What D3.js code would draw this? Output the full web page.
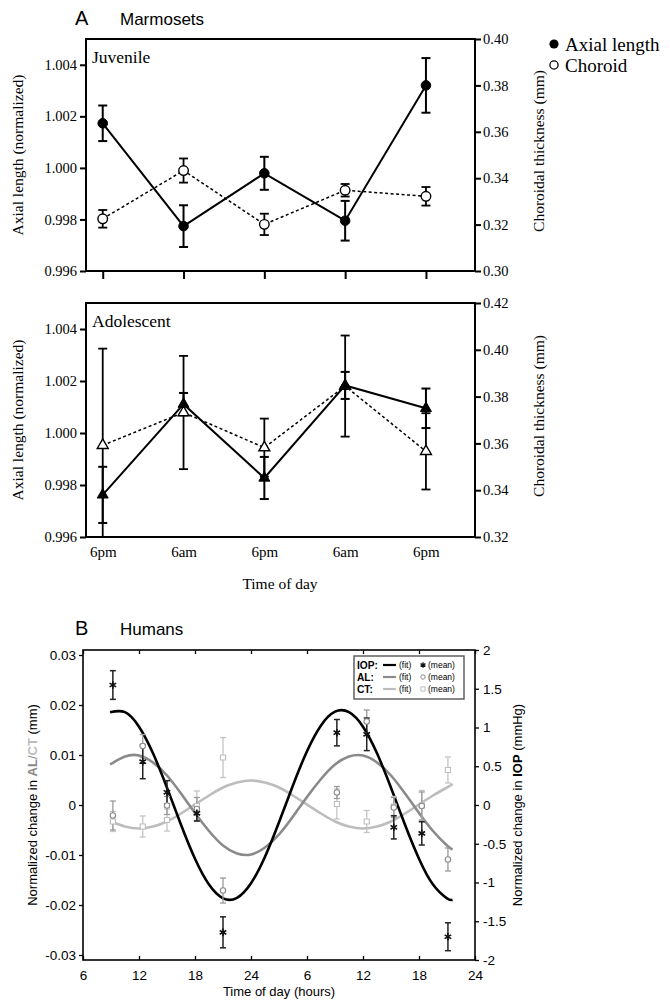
<!DOCTYPE html>
<html><head><meta charset="utf-8">
<script src="https://cdn.jsdelivr.net/npm/d3@7"></script>
<style>body{margin:0;background:#fff}</style>
</head><body>
<svg id="c" width="670" height="1008"></svg>
<script>
// ---------------- Panel A data (Marmosets) ----------------
const timeLabels = ["6pm", "6am", "6pm", "6am", "6pm"];
const timeIndex = [0, 1, 2, 3, 4];
const juvAxial = [1.00173, 0.99774, 0.99979, 0.99795, 1.00320];
const juvAxialErr = [0.00069, 0.00081, 0.00064, 0.00077, 0.00106];
const juvChoroid = [0.3225, 0.3433, 0.3201, 0.3348, 0.3322];
const juvChoroidErr = [0.0038, 0.0052, 0.0046, 0.0027, 0.0040];
const adoAxial = [0.99762, 1.00111, 0.99827, 1.00183, 1.00095];
const adoAxialErr = [0.00108, 0.00043, 0.00081, 0.00052, 0.00076];
const adoChoroid = [0.3592, 0.3732, 0.3582, 0.3845, 0.3566];
const adoChoroidErr = [0.0413, 0.0242, 0.0124, 0.0216, 0.0163];
const axialTicks = [0.996, 0.998, 1.000, 1.002, 1.004];
const juvChoroidTicks = [0.30, 0.32, 0.34, 0.36, 0.38, 0.40];
const adoChoroidTicks = [0.32, 0.34, 0.36, 0.38, 0.40, 0.42];

// ---------------- Panel B data (Humans) ----------------
const hourTicks = [6, 12, 18, 24, 30, 36, 42, 48];
const hourTickLabels = ["6", "12", "18", "24", "6", "12", "18", "24"];
const mmTicks = [-0.03, -0.02, -0.01, 0, 0.01, 0.02, 0.03];
const mmHgTicks = [-2, -1.5, -1, -0.5, 0, 0.5, 1, 1.5, 2];
const measHours = [9.2, 12.4, 15.0, 18.2, 21.0, 33.2, 36.4, 39.3, 42.3, 45.1];
const iopMean = [1.548, 0.559, 0.164, -0.107, -1.643, 0.933, 0.912, -0.288, -0.366, -1.70];
const iopErr = [0.185, 0.22, 0.15, 0.10, 0.20, 0.17, 0.21, 0.15, 0.15, 0.18];
const alMean = [-0.0021, 0.0118, -0.0001, -0.0008, -0.0171, 0.0025, 0.0167, -0.0005, -0.0002, -0.0109];
const alErr = [0.0029, 0.0023, 0.0018, 0.0023, 0.0025, 0.0012, 0.0023, 0.0020, 0.0028, 0.0023];
const ctMean = [-0.0033, -0.0043, -0.0030, -0.0002, 0.0095, 0.0002, -0.0033, -0.0003, -0.0001, 0.0070];
const ctErr = [0.0020, 0.0021, 0.0022, 0.0030, 0.0040, 0.0030, 0.0022, 0.0020, 0.0030, 0.0026];
const fitHours = [8.9, 10.5, 12, 13.5, 15, 16.5, 18, 19.5, 21, 22.5, 24, 25.5, 27, 28.5, 30, 31.5, 33, 34.5, 36, 37.5, 39, 40.5, 42, 43.5, 45, 45.6];
const iopFit = [1.198, 1.198, 1.010, 0.667, 0.223, -0.255, -0.694, -1.027, -1.204, -1.198, -1.010, -0.667, -0.223, 0.255, 0.694, 1.027, 1.204, 1.198, 1.010, 0.667, 0.223, -0.255, -0.694, -1.027, -1.204, -1.225];
const alFit = [0.0081, 0.0097, 0.0099, 0.0085, 0.0059, 0.0023, -0.0016, -0.0052, -0.0081, -0.0097, -0.0099, -0.0085, -0.0059, -0.0023, 0.0016, 0.0052, 0.0081, 0.0097, 0.0099, 0.0085, 0.0059, 0.0023, -0.0016, -0.0052, -0.0081, -0.0089];
const ctFit = [-0.0032, -0.0043, -0.0047, -0.0043, -0.0033, -0.0017, 0.0001, 0.0019, 0.0035, 0.0045, 0.0049, 0.0045, 0.0035, 0.0019, 0.0001, -0.0017, -0.0033, -0.0043, -0.0047, -0.0043, -0.0033, -0.0017, 0.0001, 0.0019, 0.0035, 0.0042];

const serif = "'Liberation Serif','Times New Roman',serif";
const sans = "'Liberation Sans',Arial,sans-serif";
const svg = d3.select("#c");

function styleAxis(ax, font, size, sw) {
  ax.attr("font-family", font).attr("font-size", size);
  ax.select(".domain").remove();
  ax.selectAll(".tick line").attr("stroke", "#000").attr("stroke-width", sw);
  ax.selectAll(".tick text").attr("fill", "#000");
}

// ================= Panel A =================
svg.append("text").attr("x", 75).attr("y", 25).attr("font-family", sans).attr("font-size", 20).text("A");
svg.append("text").attr("x", 120).attr("y", 25).attr("font-family", sans).attr("font-size", 17).text("Marmosets");

function panelA(cfg) {
  const L = 86, R = 475;
  const {top, bottom, rDom, rTicks, label, axial, axialErr, chor, chorErr, shape, showX} = cfg;
  const x = d3.scaleLinear().domain([-0.207, 4.607]).range([L, R]);
  const yL = d3.scaleLinear().domain([0.996, 1.005]).range([bottom, top]);
  const yR = d3.scaleLinear().domain(rDom).range([bottom, top]);
  const clipId = "clipA" + top;
  svg.append("clipPath").attr("id", clipId).append("rect")
    .attr("x", L).attr("y", top).attr("width", R - L).attr("height", bottom - top);
  const g = svg.append("g");

  const axL = g.append("g").attr("transform", `translate(${L},0)`)
    .call(d3.axisLeft(yL).tickValues(axialTicks).tickFormat(d3.format(".3f")).tickSize(6).tickPadding(3));
  styleAxis(axL, serif, 14.5, 2);
  const axR = g.append("g").attr("transform", `translate(${R},0)`)
    .call(d3.axisRight(yR).tickValues(rTicks).tickFormat(d3.format(".2f")).tickSize(6).tickPadding(2));
  styleAxis(axR, serif, 14.5, 2);
  const axB = g.append("g").attr("transform", `translate(0,${bottom})`)
    .call(d3.axisBottom(x).tickValues(timeIndex).tickFormat(i => showX ? timeLabels[i] : "")
      .tickSize(showX ? 0 : 8).tickPadding(9));
  styleAxis(axB, serif, 15, 2);

  g.append("rect").attr("x", L).attr("y", top).attr("width", R - L).attr("height", bottom - top)
    .attr("fill", "none").attr("stroke", "#000").attr("stroke-width", 2);

  g.append("text").attr("x", L + 6).attr("y", top + 24).attr("font-family", serif).attr("font-size", 17.5).text(label);

  const pg = g.append("g").attr("clip-path", `url(#${clipId})`);
  pg.append("path").datum(chor).attr("fill", "none").attr("stroke", "#000").attr("stroke-width", 1.5)
    .attr("stroke-dasharray", "3,2.5")
    .attr("d", d3.line().x((d, i) => x(timeIndex[i])).y(d => yR(d)));
  pg.append("path").datum(axial).attr("fill", "none").attr("stroke", "#000").attr("stroke-width", 2)
    .attr("d", d3.line().x((d, i) => x(timeIndex[i])).y(d => yL(d)));
  function errBars(vals, errs, y, sw) {
    vals.forEach((v, i) => {
      const cx = x(timeIndex[i]);
      const y1 = y(v + errs[i]), y2 = y(v - errs[i]);
      pg.append("line").attr("x1", cx).attr("x2", cx).attr("y1", y1).attr("y2", y2).attr("stroke", "#000").attr("stroke-width", sw);
      [y1, y2].forEach(yy => pg.append("line").attr("x1", cx - 4.5).attr("x2", cx + 4.5).attr("y1", yy).attr("y2", yy)
        .attr("stroke", "#000").attr("stroke-width", sw));
    });
  }
  errBars(chor, chorErr, yR, 1.8);
  errBars(axial, axialErr, yL, 2);
  const sym = shape === "circle" ? d3.symbolCircle : d3.symbolTriangle;
  const size = shape === "circle" ? 72 : 52;
  chor.forEach((v, i) => pg.append("path").attr("d", d3.symbol(sym, size)())
    .attr("transform", `translate(${x(timeIndex[i])},${yR(v)})`).attr("fill", "#fff").attr("stroke", "#000").attr("stroke-width", 1.4));
  axial.forEach((v, i) => pg.append("path").attr("d", d3.symbol(sym, size)())
    .attr("transform", `translate(${x(timeIndex[i])},${yL(v)})`).attr("fill", "#000").attr("stroke", "#000").attr("stroke-width", 1));

  const mid = (top + bottom) / 2;
  g.append("text").attr("transform", `translate(17,${mid}) rotate(-90)`).attr("text-anchor", "middle")
    .attr("dominant-baseline", "central").attr("font-family", serif).attr("font-size", 15.5).text("Axial length (normalized)");
  g.append("text").attr("transform", `translate(538,${mid - 4}) rotate(-90)`).attr("text-anchor", "middle")
    .attr("dominant-baseline", "central").attr("font-family", serif).attr("font-size", 15.5).text("Choroidal thickness (mm)");
  return x;
}

panelA({top: 39, bottom: 271, rDom: [0.30, 0.40], rTicks: juvChoroidTicks, label: "Juvenile",
  axial: juvAxial, axialErr: juvAxialErr, chor: juvChoroid, chorErr: juvChoroidErr, shape: "circle", showX: false});
panelA({top: 303, bottom: 537, rDom: [0.32, 0.42], rTicks: adoChoroidTicks, label: "Adolescent",
  axial: adoAxial, axialErr: adoAxialErr, chor: adoChoroid, chorErr: adoChoroidErr, shape: "triangle", showX: true});

svg.append("text").attr("x", 280).attr("y", 589).attr("text-anchor", "middle").attr("font-family", serif)
  .attr("font-size", 15.5).text("Time of day");

// legend A
const legA = svg.append("g").attr("font-family", serif).attr("font-size", 19);
legA.append("circle").attr("cx", 554).attr("cy", 44).attr("r", 4.6).attr("fill", "#000");
legA.append("text").attr("x", 565).attr("y", 50.5).text("Axial length");
legA.append("circle").attr("cx", 554).attr("cy", 65).attr("r", 4.1).attr("fill", "#fff").attr("stroke", "#000").attr("stroke-width", 1.3);
legA.append("text").attr("x", 565).attr("y", 71.5).text("Choroid");

// ================= Panel B =================
svg.append("text").attr("x", 75).attr("y", 635).attr("font-family", sans).attr("font-size", 20).text("B");
svg.append("text").attr("x", 120).attr("y", 635).attr("font-family", sans).attr("font-size", 17).text("Humans");

const BL = 83, BR = 475, BT = 650, BB = 960;
const xB = d3.scaleLinear().domain([6, 48]).range([BL, BR]);
const yB = d3.scaleLinear().domain([-0.031, 0.031]).range([BB, BT]);
const yI = d3.scaleLinear().domain([-2, 2]).range([BB, BT]);
const gB = svg.append("g");

const bAxL = gB.append("g").attr("transform", `translate(${BL},0)`)
  .call(d3.axisLeft(yB).tickValues(mmTicks).tickFormat(d => d === 0 ? "0" : d.toFixed(2)).tickSize(4).tickPadding(3));
styleAxis(bAxL, sans, 13.5, 1.3);
const bAxR = gB.append("g").attr("transform", `translate(${BR},0)`)
  .call(d3.axisRight(yI).tickValues(mmHgTicks).tickFormat(d => String(d)).tickSize(4).tickPadding(4));
styleAxis(bAxR, sans, 13.5, 1.3);
const bAxB = gB.append("g").attr("transform", `translate(0,${BB})`)
  .call(d3.axisBottom(xB).tickValues(hourTicks).tickFormat((d, i) => hourTickLabels[i]).tickSize(-4).tickPadding(10));
styleAxis(bAxB, sans, 13.5, 1.3);
const bAxT = gB.append("g").attr("transform", `translate(0,${BT})`)
  .call(d3.axisTop(xB).tickValues(hourTicks).tickFormat("").tickSize(-4));
styleAxis(bAxT, sans, 13.5, 1.3);

gB.append("rect").attr("x", BL).attr("y", BT).attr("width", BR - BL).attr("height", BB - BT)
  .attr("fill", "none").attr("stroke", "#000").attr("stroke-width", 1.6);

const cIOP = "#000", cAL = "#8a8a8a", cCT = "#bdbdbd";
gB.append("path").datum(ctFit).attr("fill", "none").attr("stroke", cCT).attr("stroke-width", 2.6)
  .attr("d", d3.line().curve(d3.curveNatural).x((d, i) => xB(fitHours[i])).y(d => yB(d)));
gB.append("path").datum(alFit).attr("fill", "none").attr("stroke", cAL).attr("stroke-width", 2.6)
  .attr("d", d3.line().curve(d3.curveNatural).x((d, i) => xB(fitHours[i])).y(d => yB(d)));
gB.append("path").datum(iopFit).attr("fill", "none").attr("stroke", cIOP).attr("stroke-width", 2.6)
  .attr("d", d3.line().curve(d3.curveNatural).x((d, i) => xB(fitHours[i])).y(d => yI(d)));

function errB(vals, errs, y, color, sw) {
  vals.forEach((v, i) => {
    const cx = xB(measHours[i]);
    const y1 = y(v + errs[i]), y2 = y(v - errs[i]);
    gB.append("line").attr("x1", cx).attr("x2", cx).attr("y1", y1).attr("y2", y2).attr("stroke", color).attr("stroke-width", sw);
    [y1, y2].forEach(yy => gB.append("line").attr("x1", cx - 3).attr("x2", cx + 3).attr("y1", yy).attr("y2", yy)
      .attr("stroke", color).attr("stroke-width", sw));
  });
}
errB(ctMean, ctErr, yB, "#c4c4c4", 1.3);
errB(alMean, alErr, yB, "#9a9a9a", 1.3);
errB(iopMean, iopErr, yI, "#222", 1.5);
ctMean.forEach((v, i) => gB.append("path").attr("d", d3.symbol(d3.symbolSquare, 26)())
  .attr("transform", `translate(${xB(measHours[i])},${yB(v)})`).attr("fill", "#fff").attr("stroke", "#bdbdbd").attr("stroke-width", 1.1));
alMean.forEach((v, i) => gB.append("circle").attr("cx", xB(measHours[i])).attr("cy", yB(v)).attr("r", 2.7)
  .attr("fill", "#fff").attr("stroke", "#8a8a8a").attr("stroke-width", 1.1));
iopMean.forEach((v, i) => gB.append("path").attr("d", d3.symbol(d3.symbolAsterisk, 40)())
  .attr("transform", `translate(${xB(measHours[i])},${yI(v)})`).attr("fill", "none").attr("stroke", "#111").attr("stroke-width", 1.6));

// legend B
const lg = svg.append("g").attr("font-family", sans);
lg.append("rect").attr("x", 354).attr("y", 656).attr("width", 110).attr("height", 43)
  .attr("fill", "#fff").attr("stroke", "#555").attr("stroke-width", 1.4);
const legRows = [
  {name: "IOP:", color: cIOP, y: 665},
  {name: "AL:", color: cAL, y: 677},
  {name: "CT:", color: cCT, y: 689}
];
legRows.forEach((r, k) => {
  lg.append("text").attr("x", 357).attr("y", r.y + 3.8).attr("font-size", 10.2).attr("font-weight", "bold").text(r.name);
  lg.append("line").attr("x1", 383).attr("x2", 396).attr("y1", r.y).attr("y2", r.y).attr("stroke", r.color).attr("stroke-width", 2.2);
  lg.append("text").attr("x", 399).attr("y", r.y + 3).attr("font-size", 8.5).text("(fit)");
  lg.append("text").attr("x", 428).attr("y", r.y + 3).attr("font-size", 8.5).text("(mean)");
  const cx = 423;
  if (k === 0) lg.append("path").attr("d", d3.symbol(d3.symbolAsterisk, 22)()).attr("transform", `translate(${cx},${r.y})`)
    .attr("fill", "none").attr("stroke", "#111").attr("stroke-width", 1.3);
  if (k === 1) lg.append("circle").attr("cx", cx).attr("cy", r.y).attr("r", 2.2).attr("fill", "#fff").attr("stroke", "#8a8a8a").attr("stroke-width", 1);
  if (k === 2) lg.append("path").attr("d", d3.symbol(d3.symbolSquare, 18)()).attr("transform", `translate(${cx},${r.y})`)
    .attr("fill", "#fff").attr("stroke", "#bdbdbd").attr("stroke-width", 1);
});

const midB = (BT + BB) / 2;
const tl = svg.append("text").attr("transform", `translate(32,${midB}) rotate(-90)`).attr("text-anchor", "middle")
  .attr("dominant-baseline", "central").attr("font-family", sans).attr("font-size", 13);
tl.append("tspan").text("Normalized change in ");
tl.append("tspan").attr("fill", "#8a8a8a").attr("font-weight", "bold").text("AL");
tl.append("tspan").attr("fill", "#8a8a8a").text("/");
tl.append("tspan").attr("fill", "#bdbdbd").attr("font-weight", "bold").text("CT");
tl.append("tspan").text(" (mm)");
const tr = svg.append("text").attr("transform", `translate(517,${midB}) rotate(-90)`).attr("text-anchor", "middle")
  .attr("dominant-baseline", "central").attr("font-family", sans).attr("font-size", 13);
tr.append("tspan").text("Normalized change in ");
tr.append("tspan").attr("font-weight", "bold").text("IOP");
tr.append("tspan").text(" (mmHg)");
svg.append("text").attr("x", 279).attr("y", 996).attr("text-anchor", "middle").attr("font-family", sans)
  .attr("font-size", 13).text("Time of day (hours)");
</script>
</body></html>
